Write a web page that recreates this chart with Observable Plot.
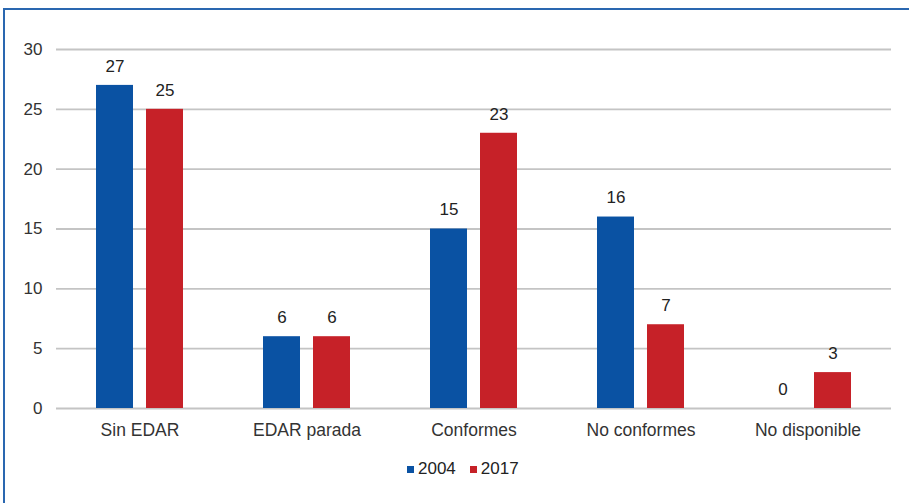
<!DOCTYPE html>
<html>
<head>
<meta charset="utf-8">
<script src="https://cdn.jsdelivr.net/npm/d3@7"></script>
<script src="https://cdn.jsdelivr.net/npm/@observablehq/plot@0.6"></script>
<style>
  html, body { margin: 0; padding: 0; background: #fff; }
  body { position: relative; width: 909px; height: 503px; overflow: hidden; font-family: "Liberation Sans", Arial, sans-serif; }
  #frame { position: absolute; left: 3px; top: 8px; width: 960px; height: 560px; border-left: 2px solid #2a67b0; border-top: 2px solid #2a67b0; }
  #chart { position: absolute; left: 0; top: 0; }
  #legend { position: absolute; top: 459px; left: 407px; display: flex; align-items: center; font-size: 17px; color: #222; }
  #legend .sw { display: inline-block; width: 7px; height: 7px; margin-right: 4px; }
  #legend .item { display: flex; align-items: center; margin-right: 14px; }
</style>
</head>
<body>
<div id="frame"></div>
<div id="chart"></div>
<div id="legend"></div>
<script>
const categories = ["Sin EDAR", "EDAR parada", "Conformes", "No conformes", "No disponible"];
const years = ["2004", "2017"];
const values2004 = [27, 6, 15, 16, 0];
const values2017 = [25, 6, 23, 7, 3];
const colors = ["#0a52a3", "#c62128"];
const yTicks = [0, 5, 10, 15, 20, 25, 30];

const data = [];
categories.forEach((c, i) => {
  data.push({category: c, year: years[0], value: values2004[i]});
  data.push({category: c, year: years[1], value: values2017[i]});
});

const chart = Plot.plot({
  width: 909,
  height: 440,
  marginLeft: 55,
  marginRight: 18,
  marginTop: 49,
  marginBottom: 32,
  style: {fontFamily: "'Liberation Sans', Arial, sans-serif", fontSize: "17px", color: "#333", background: "transparent"},
  fx: {domain: categories, padding: 0, label: null},
  x: {domain: years, paddingInner: 0.26, paddingOuter: 0.8, axis: null},
  y: {domain: [0, 30], label: null},
  color: {domain: years, range: colors},
  marks: [
    Plot.gridY(yTicks, {stroke: "#c4c4c4", strokeOpacity: 1, strokeWidth: 1.8}),
    Plot.axisY(yTicks, {tickSize: 0, tickPadding: 14, label: null, fontSize: 17, fill: "#333"}),
    Plot.axisFx({anchor: "bottom", tickSize: 0, tickPadding: 15, label: null, fontSize: 17.5, fill: "#333"}),
    Plot.barY(data, {fx: "category", x: "year", y: "value", fill: "year"}),
    Plot.text(data, {fx: "category", x: "year", y: "value", text: d => String(d.value), dy: -19, fontSize: 17, fill: "#222"})
  ]
});
document.getElementById("chart").appendChild(chart);

const legend = document.getElementById("legend");
years.forEach((y, i) => {
  const item = document.createElement("span");
  item.className = "item";
  const sw = document.createElement("span");
  sw.className = "sw";
  sw.style.background = colors[i];
  item.appendChild(sw);
  item.appendChild(document.createTextNode(y));
  legend.appendChild(item);
});
</script>
</body>
</html>
